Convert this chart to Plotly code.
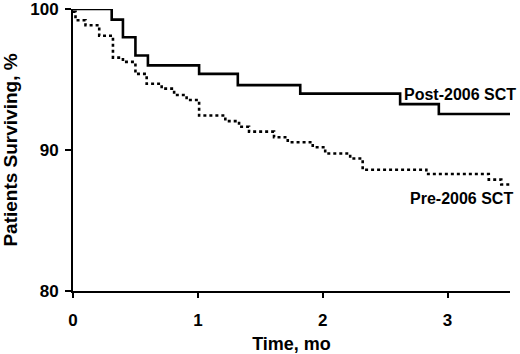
import plotly.graph_objects as go

# Post-2006 SCT (Kaplan-Meier steps)
post_time = [0, 0.31, 0.40, 0.50, 0.60, 1.01, 1.32, 1.82, 2.62, 2.93, 3.5]
post_surv = [100, 99.25, 98.0, 96.7, 96.0, 95.4, 94.6, 94.0, 93.25, 92.55, 92.55]

# Pre-2006 SCT
pre_time = [0, 0.02, 0.10, 0.21, 0.32, 0.40, 0.50, 0.59, 0.71, 0.81, 0.91, 1.01,
            1.22, 1.33, 1.41, 1.61, 1.72, 1.92, 2.02, 2.22, 2.32, 2.83, 3.33, 3.43, 3.5]
pre_surv = [99.8, 99.2, 98.85, 98.1, 96.55, 96.25, 95.4, 94.7, 94.35, 93.9, 93.55, 92.45,
            92.05, 91.65, 91.3, 90.9, 90.55, 90.2, 89.75, 89.4, 88.6, 88.3, 87.9, 87.55, 87.55]

x_ticks = [0, 1, 2, 3]
y_ticks = [80, 90, 100]

FONT = "Arial, Liberation Sans, Helvetica, sans-serif"

fig = go.Figure()
fig.add_trace(go.Scatter(x=pre_time, y=pre_surv, mode="lines", line_shape="hv",
                         line=dict(color="black", width=2.6, dash="dot"),
                         cliponaxis=False, showlegend=False))
fig.add_trace(go.Scatter(x=post_time, y=post_surv, mode="lines", line_shape="hv",
                         line=dict(color="black", width=2.6),
                         cliponaxis=False, showlegend=False))

fig.add_annotation(x=3.5, y=post_surv[-1], text="<b>Post-2006 SCT</b>", showarrow=False,
                   xanchor="right", yanchor="middle", yshift=20, xshift=8,
                   font=dict(family=FONT, size=16, color="black"))
fig.add_annotation(x=3.5, y=pre_surv[-1], text="<b>Pre-2006 SCT</b>", showarrow=False,
                   xanchor="right", yanchor="middle", yshift=-14, xshift=5,
                   font=dict(family=FONT, size=16, color="black"))

fig.update_layout(
    width=520, height=354,
    margin=dict(l=73, r=10, t=9, b=63),
    paper_bgcolor="white", plot_bgcolor="white",
    font=dict(family=FONT, color="black"),
    xaxis=dict(range=[0, 3.5], tickvals=x_ticks, ticktext=[f"<b>{v}</b>" for v in x_ticks],
               showgrid=False, zeroline=False, showline=True, linecolor="black", linewidth=2,
               ticks="outside", ticklen=5, tickwidth=2, tickcolor="black",
               tickfont=dict(size=17, family=FONT), ticklabelstandoff=8,
               ticklabeloverflow="allow", automargin=False,
               title=dict(text="<b>Time, mo</b>", font=dict(size=18, family=FONT), standoff=9)),
    yaxis=dict(range=[80, 100], tickvals=y_ticks, ticktext=[f"<b>{v}</b>" for v in y_ticks],
               showgrid=False, zeroline=False, showline=True, linecolor="black", linewidth=2,
               ticks="outside", ticklen=6, tickwidth=2, tickcolor="black",
               tickfont=dict(size=17, family=FONT), ticklabelstandoff=3,
               ticklabeloverflow="allow", automargin=False,
               title=dict(text="<b>Patients Surviving, %</b>", font=dict(size=19, family=FONT), standoff=11)),
)

fig.write_html("out.html", config={"displayModeBar": False},
               post_script="document.body.style.margin='0';document.body.style.padding='0';")
